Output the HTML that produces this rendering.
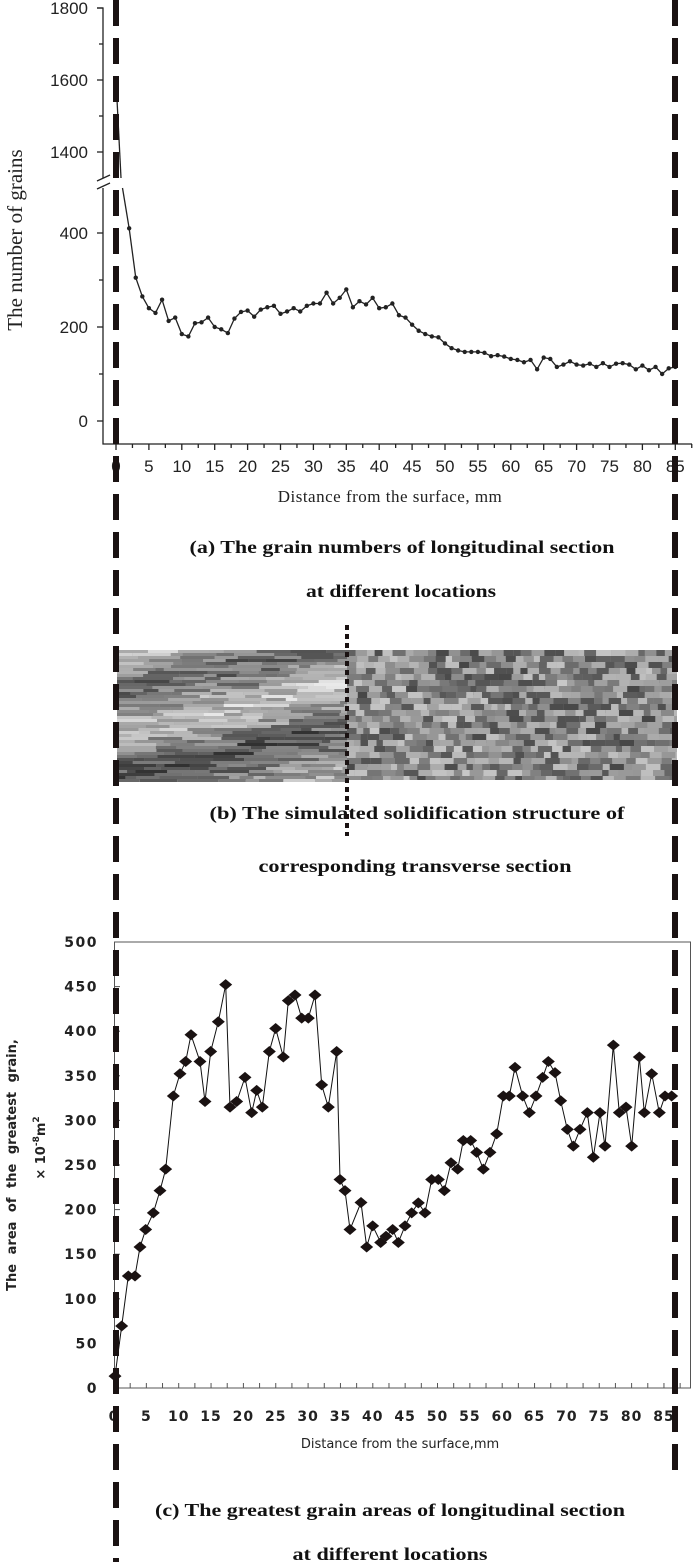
<!DOCTYPE html>
<html><head><meta charset="utf-8"><style>
html,body{margin:0;padding:0;background:#fff;}
svg{display:block;}
</style></head><body>
<svg id="s" width="700" height="1562" xmlns="http://www.w3.org/2000/svg">
<rect width="700" height="1562" fill="#fff"/>
<g id="tex"></g>
<g id="ga" stroke="#222" fill="none" stroke-width="1.3"></g>
<g id="gc" stroke="#111" fill="none" stroke-width="1"></g>
<g font-family="Liberation Sans, Arial, sans-serif" font-size="17" fill="#222" text-anchor="end">
<text x="88" y="14">1800</text><text x="88" y="86">1600</text><text x="88" y="158">1400</text>
<text x="88" y="239">400</text><text x="88" y="333">200</text><text x="88" y="427">0</text>
</g>
<text transform="translate(22,240) rotate(-90)" font-family="Liberation Serif, serif" font-size="21" fill="#222" text-anchor="middle">The number of grains</text>
<g id="xla" font-family="Liberation Sans, Arial, sans-serif" font-size="17" fill="#222" text-anchor="middle"></g>
<text x="390" y="502" font-family="Liberation Serif, serif" font-size="17" fill="#222" text-anchor="middle" letter-spacing="0.5">Distance from the surface, mm</text>
<g font-family="Liberation Serif, serif" font-weight="bold" font-size="18" fill="#111" text-anchor="middle">
<text x="402" y="553" textLength="425" lengthAdjust="spacingAndGlyphs">(a) The grain numbers of longitudinal section</text>
<text x="401" y="597" textLength="190" lengthAdjust="spacingAndGlyphs">at different locations</text>
<text x="417" y="819" textLength="415" lengthAdjust="spacingAndGlyphs">(b) The simulated solidification structure of</text>
<text x="415" y="872" textLength="313" lengthAdjust="spacingAndGlyphs">corresponding transverse section</text>
<text x="390" y="1516" textLength="470" lengthAdjust="spacingAndGlyphs">(c) The greatest grain areas of longitudinal section</text>
<text x="390" y="1560" textLength="195" lengthAdjust="spacingAndGlyphs">at different locations</text>
</g>
<g id="ylc" font-family="DejaVu Sans, Verdana, sans-serif" font-weight="bold" font-size="14" fill="#222" text-anchor="end" letter-spacing="1.5"></g>
<g id="xlc" font-family="DejaVu Sans, Verdana, sans-serif" font-weight="bold" font-size="14" fill="#222" text-anchor="middle" letter-spacing="1"></g>
<text x="400" y="1448" font-family="DejaVu Sans, Verdana, sans-serif" font-size="13" fill="#222" text-anchor="middle">Distance from the surface,mm</text>
<text transform="translate(16,1165) rotate(-90)" font-family="DejaVu Sans, Verdana, sans-serif" font-weight="bold" font-size="13" fill="#222" text-anchor="middle" word-spacing="5">The area of the greatest grain,</text>
<text transform="translate(45,1148) rotate(-90)" font-family="DejaVu Sans, Verdana, sans-serif" font-weight="bold" font-size="13" fill="#222" text-anchor="middle">× 10<tspan dy="-6" font-size="9">-8</tspan><tspan dy="6">m</tspan><tspan dy="-6" font-size="9">2</tspan></text>
<g id="dash">
<line x1="116" y1="0" x2="116" y2="1562" stroke="#1a1212" stroke-width="6" stroke-dasharray="26 12"/>
<line x1="675" y1="0" x2="675" y2="1480" stroke="#1a1212" stroke-width="6" stroke-dasharray="26 12"/>
<line x1="347" y1="625" x2="347" y2="836" stroke="#1a1212" stroke-width="4" stroke-dasharray="5 4"/>
</g>
</svg>
<script>
(function(){
var NS="http://www.w3.org/2000/svg";
function el(p,t,a,txt){var e=document.createElementNS(NS,t);for(var k in a)e.setAttribute(k,a[k]);if(txt!==undefined)e.textContent=txt;p.appendChild(e);return e;}
var ga=document.getElementById('ga');
el(ga,'polyline',{points:"97,8 103,8 103,178"});
el(ga,'polyline',{points:"103,188 103,444 692,444"});
el(ga,'line',{x1:97,y1:181,x2:110,y2:175});el(ga,'line',{x1:97,y1:189,x2:110,y2:183});
[8,80,152,233,327,421].forEach(function(y){el(ga,'line',{x1:97,y1:y,x2:103,y2:y});});
[44,116,280,374].forEach(function(y){el(ga,'line',{x1:99,y1:y,x2:103,y2:y});});
var xa=function(u){return 116+u*6.58;};
for(var u=0;u<=87.5;u+=2.5){el(ga,'line',{x1:xa(u),y1:444,x2:xa(u),y2:u%5==0?450:448});}
var xla=document.getElementById('xla');
for(var u=0;u<=85;u+=5)el(xla,'text',{x:xa(u),y:472},String(u));
var va=[1600,null,410,305,265,240,230,258,213,220,185,180,208,210,220,200,195,187,218,232,235,222,237,242,245,228,233,240,233,245,250,250,273,250,262,280,242,255,248,262,240,242,250,225,220,205,192,185,180,178,165,155,150,147,147,147,145,138,140,137,132,130,125,130,110,135,132,115,120,127,120,118,122,115,123,115,122,123,120,110,118,108,115,100,112,115];
function ya(v){return v>1000?80+(1600-v)*0.36:421-v*0.47;}
var pts=[];
el(ga,'polyline',{points:xa(0)+","+ya(1600)+" "+(xa(0)+5)+",178"});
el(ga,'polyline',{points:(xa(0)+6.5)+",188 "+xa(2)+","+ya(410)});
for(var i=2;i<va.length;i++){pts.push(xa(i)+","+ya(va[i]));}
el(ga,'polyline',{points:pts.join(" ")});
for(var i=0;i<va.length;i++){if(va[i]===null)continue;el(ga,'circle',{cx:xa(i),cy:ya(va[i]),r:2.2,fill:"#222",stroke:"none"});}
var gc=document.getElementById('gc');
var T=942,B=1388;
el(gc,'rect',{x:114.5,y:T,width:576,height:B-T,stroke:"#555"});
var ylc=document.getElementById('ylc');
for(var v=0;v<=500;v+=50){var y=B-v*(B-T)/500;el(ylc,'text',{x:98,y:y+5},String(v));if(v>0&&v<500)el(gc,'line',{x1:114.5,y1:y,x2:120,y2:y,stroke:"#555"});}
var xc=function(u){return 114+u*6.47;};
var xlc=document.getElementById('xlc');
for(var u=0;u<=85;u+=5){el(xlc,'text',{x:xc(u),y:1421},String(u));}
for(var u=2.5;u<88;u+=2.5){el(gc,'line',{x1:xc(u),y1:B,x2:xc(u),y2:B-5,stroke:"#555"});}
var z2=[[345,1345],[365,1210],[385,1075],[405,1075],[420,997],[437,950],[460,905],[480,845],[497,787],[520,590],[540,530],[557,497],[573,425],[600,497],[615,605],[632,470],[655,390],[677,290],[690,620],[710,605],[735,540],[755,635],[770,575],[787,620],[808,470],[827,408],[850,485],[865,333],[885,318],[905,380],[925,380],[945,318],[965,560],[985,620],[1010,470],[1020,815],[1035,845],[1050,950]];
var z3=[[33,877],[50,997],[68,940],[92,985],[108,968],[128,950],[145,985],[165,940],[185,905],[205,878],[225,905],[245,815],[265,815],[283,845],[303,770],[323,787],[340,710],[362,710],[380,742],[400,787],[420,742],[440,692],[460,590],[478,590],[495,513],[518,590],[538,635],[558,590],[578,540],[595,497],[615,527],[632,603],[652,680],[670,725],[690,680],[712,635],[730,755],[750,635],[765,725],[790,453],[808,635],[828,620],[845,725],[868,485],[883,635],[905,530],[928,635],[945,590],[965,590]];
function ymap(py){return T+(py-175)*(B-T)/1202;}
var P=[];z2.forEach(function(p){P.push([p[0]/3,ymap(p[1])]);});z3.forEach(function(p){P.push([350+p[0]/3,ymap(p[1])]);});
el(gc,'polyline',{points:P.map(function(p){return p[0].toFixed(1)+","+p[1].toFixed(1);}).join(" ")});
P.forEach(function(p){var x=p[0],y=p[1];el(gc,'polygon',{points:(x-6.5)+","+y+" "+x+","+(y-5.5)+" "+(x+6.5)+","+y+" "+x+","+(y+5.5),fill:"#1a1212",stroke:"none"});});
var tex=document.getElementById('tex');
var seed=12345;function rnd(){seed=(seed*1103515245+12345)%2147483648;return seed/2147483648;}
function g(v){v=Math.max(40,Math.min(235,Math.round(v)));return "rgb("+v+","+v+","+v+")";}
el(tex,'rect',{x:117,y:650,width:560,height:130,fill:"#9a9a9a"});
for(var y=650;y<780;y+=3){for(var x=117;x<347;){var w=8+rnd()*35;var base=150+40*Math.sin((y-650)/14+x/60)+(y>730?-20:0);el(tex,'rect',{x:x,y:y,width:Math.min(w,347-x),height:3,fill:g(base+(rnd()-0.5)*90)});x+=w;}}
for(var y=650;y<780;y+=6){for(var x=347;x<677;){var w=6+rnd()*9;el(tex,'rect',{x:x,y:y,width:Math.min(w,677-x),height:Math.min(6+(rnd()<0.5?3:0),780-y),fill:g(135+(rnd()-0.5)*130)});x+=w;}}
})();
</script>
</body></html>
